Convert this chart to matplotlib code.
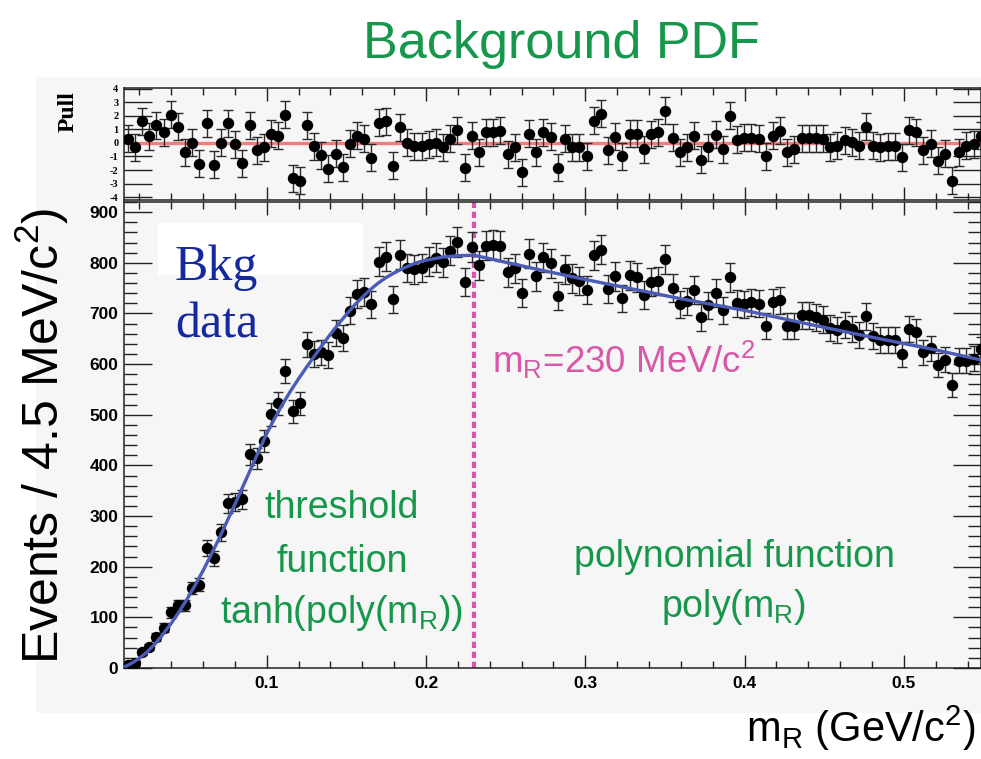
"""Background PDF fit: m_R distribution with threshold + polynomial fit and pull panel."""

import matplotlib

matplotlib.use("Agg")
import matplotlib.pyplot as plt
import numpy as np
from matplotlib.patches import Rectangle
from matplotlib.ticker import FuncFormatter, MultipleLocator

plt.rcParams["font.family"] = ["Liberation Sans", "DejaVu Sans"]
plt.rcParams["mathtext.default"] = "regular"
plt.rcParams["axes.unicode_minus"] = False

# histogram binning (4.5 MeV/c^2 bins)
BIN_LO = 0.0105
BIN_WIDTH = 0.0045

EVENTS = [
    6, 10, 32, 41, 62, 79, 110, 124, 124, 158,
    164, 237, 217, 268, 325, 328, 333, 422, 414, 448,
    501, 523, 586, 507, 523, 639, 620, 623, 618, 662,
    652, 705, 738, 742, 718, 802, 812, 728, 816, 790,
    787, 790, 802, 810, 801, 824, 841, 762, 831, 795,
    834, 836, 833, 781, 789, 740, 818, 773, 811, 799,
    734, 787, 769, 765, 746, 815, 826, 748, 773, 730,
    775, 771, 736, 763, 765, 807, 750, 718, 724, 746,
    692, 716, 740, 706, 771, 720, 718, 722, 719, 675,
    722, 726, 675, 675, 696, 696, 692, 688, 671, 667,
    677, 669, 657, 694, 655, 647, 647, 647, 619, 669,
    663, 623, 631, 598, 609, 558, 607, 607, 611, 629,
]

PULLS = [
    0.3, -0.3, 1.6, 0.5, 1.3, 0.8, 2.1, 1.2, -0.7, 0.0,
    -1.55, 1.45, -1.6, 0.0, 1.45, -0.1, -1.5, 1.3, -0.55, -0.3,
    0.7, 0.55, 2.1, -2.6, -2.8, 1.3, -0.25, -0.9, -1.9, -0.8,
    -1.8, -0.05, 0.55, 0.3, -1.1, 1.5, 1.6, -1.7, 1.15, 0.0,
    -0.25, -0.25, -0.1, 0.0, -0.3, 0.3, 0.95, -1.85, 0.55, -0.7,
    0.8, 0.8, 0.9, -0.85, -0.3, -2.15, 0.7, -0.7, 0.8, 0.45,
    -1.85, 0.3, -0.3, -0.3, -1.0, 1.65, 2.15, -0.55, 0.45, -1.0,
    0.7, 0.7, -0.45, 0.65, 0.8, 2.4, 0.4, -0.7, -0.3, 0.55,
    -1.25, -0.3, 0.6, -0.45, 2.0, 0.25, 0.4, 0.4, 0.3, -1.0,
    0.55, 0.9, -0.7, -0.45, 0.35, 0.35, 0.35, 0.3, -0.3, -0.2,
    0.2, 0.05, -0.2, 1.2, -0.2, -0.3, -0.25, -0.25, -1.05, 0.95,
    0.8, -0.55, -0.05, -1.3, -0.8, -2.8, -0.7, -0.2, -0.1, 0.55,
]

# fitted PDF
FIT_X = [
    0.0105, 0.015, 0.02, 0.025, 0.03, 0.035, 0.04, 0.045, 0.05, 0.055,
    0.06, 0.065, 0.07, 0.075, 0.08, 0.085, 0.09, 0.095, 0.10, 0.105,
    0.11, 0.115, 0.12, 0.125, 0.13, 0.135, 0.14, 0.145, 0.15, 0.155,
    0.16, 0.165, 0.17, 0.175, 0.18, 0.185, 0.19, 0.195, 0.20, 0.21,
    0.22, 0.23, 0.25, 0.27, 0.30, 0.33, 0.36, 0.40, 0.44, 0.48,
    0.52, 0.55,
]
FIT_Y = [
    2, 9, 19, 32, 48, 67, 88, 111, 136, 163,
    192, 223, 255, 289, 323, 358, 393, 428, 463, 493,
    521, 547, 571, 594, 616, 638, 659, 679, 698, 716,
    732, 747, 760, 771, 780, 788, 795, 801, 805, 811,
    814, 815, 801, 787, 767, 748, 729, 706, 679, 653,
    628, 607,
]

M_SPLIT = 0.23
X_RANGE = (0.0104, 0.5484)

GREEN = "#17974c"
PINK = "#d957a8"
BLUE = "#4c5bb5"
BG = "#f6f6f6"

W, H = 981, 759
fig = plt.figure(figsize=(W / 100, H / 100), dpi=100)


def fx(px):
    return px / W


def fy(py):
    return 1 - py / H


# grey canvas of the ROOT pad
fig.add_artist(Rectangle((fx(36), fy(713)), fx(981 - 36), (713 - 77) / H,
                         transform=fig.transFigure, facecolor=BG, edgecolor="none", zorder=-1))

ax_pull = fig.add_axes([fx(124), fy(200), fx(857), 112 / H])
ax = fig.add_axes([fx(124), fy(668), fx(857), 466 / H])

centers = BIN_LO + BIN_WIDTH * (np.arange(len(EVENTS)) + 0.5)
events = np.array(EVENTS, dtype=float)
pulls = np.array(PULLS, dtype=float)

err_kw = dict(fmt="o", color="black", ms=7.2, ecolor="#2a2a2a", elinewidth=1.0,
              capsize=3.5, capthick=1.0, clip_on=True, zorder=3)

# main panel
ax.errorbar(centers, events, yerr=np.sqrt(events), **err_kw)
ax.plot(FIT_X, FIT_Y, color=BLUE, lw=2.4, zorder=4)
ax.axvline(M_SPLIT, color=PINK, lw=3.0, dashes=(1.5, 0.9), zorder=2)

ax.set_xlim(*X_RANGE)
ax.set_ylim(0, 920)
ax.set_facecolor(BG)

# pull panel
ax_pull.axhline(0, color="#f47c7c", lw=2.4, zorder=2)
ax_pull.errorbar(centers, pulls, yerr=np.ones_like(pulls), **err_kw)
ax_pull.set_xlim(*X_RANGE)
ax_pull.set_ylim(-4.22, 4.07)
ax_pull.set_facecolor(BG)

for a in (ax, ax_pull):
    for s in a.spines.values():
        s.set_linewidth(1.1)
        s.set_color("#222222")
    a.xaxis.set_major_locator(MultipleLocator(0.1))
    a.xaxis.set_minor_locator(MultipleLocator(0.02))
    a.tick_params(axis="both", which="both", direction="in", top=True, right=True, color="#222222")
    a.tick_params(axis="x", which="major", length=9.5, width=1.0)
    a.tick_params(axis="x", which="minor", length=5, width=1.0)
    a.tick_params(axis="y", which="major", length=20, width=1.0)
    a.tick_params(axis="y", which="minor", length=9.5, width=1.0)

ax.yaxis.set_major_locator(MultipleLocator(100))
ax.yaxis.set_minor_locator(MultipleLocator(20))
ax.xaxis.set_major_formatter(FuncFormatter(lambda v, p: f"{v:.1f}"))
ax.tick_params(axis="x", which="major", labelsize=12.5, pad=6)
ax.tick_params(axis="y", which="major", labelsize=12.5, pad=4)
for lab in ax.get_xticklabels() + ax.get_yticklabels():
    lab.set_fontweight("bold")

ax_pull.yaxis.set_major_locator(MultipleLocator(1))
ax_pull.tick_params(axis="x", labelbottom=False)
ax_pull.tick_params(axis="y", which="major", labelsize=7.5, pad=4)
for lab in ax_pull.get_yticklabels():
    lab.set_fontweight("bold")
    lab.set_family(["Liberation Serif"])

# white box behind the "Bkg" label
ax.add_patch(Rectangle(((158 - 124) / 857, (668 - 275) / 466), 205 / 857, 52 / 466,
                       transform=ax.transAxes, facecolor="white", edgecolor="none", zorder=1))
ax.text((175 - 124) / 857, (668 - 280) / 466, "Bkg", transform=ax.transAxes,
        family=["Liberation Serif"], fontsize=36, color="#1428a0", va="baseline", zorder=5)
ax.text((175 - 124) / 857, (668 - 338) / 466, "data", transform=ax.transAxes,
        family=["Liberation Serif"], fontsize=36, color="#1428a0", va="baseline", zorder=5)

ax.text((492 - 124) / 857, (668 - 373) / 466, "m$_R$=230 MeV/c$^2$", transform=ax.transAxes,
        fontsize=26.5, color=PINK, va="baseline", ha="left", zorder=5)

for txt, yb in (("threshold", 518), ("function", 572), ("tanh(poly(m$_R$))", 623)):
    ax.text((342 - 124) / 857, (668 - yb) / 466, txt, transform=ax.transAxes,
            fontsize=27, color=GREEN, ha="center", va="baseline", zorder=5)
for txt, yb in (("polynomial function", 567), ("poly(m$_R$)", 617)):
    ax.text((734 - 124) / 857, (668 - yb) / 466, txt, transform=ax.transAxes,
            fontsize=27, color=GREEN, ha="center", va="baseline", zorder=5)

fig.text(fx(561), fy(58), "Background PDF", fontsize=37.5, color=GREEN, ha="center", va="baseline")
fig.text(fx(42), fy(436), "Events / 4.5 MeV/c$^2$)", fontsize=36, rotation=90,
         ha="center", va="center")
fig.text(fx(975), fy(742), "m$_R$ (GeV/c$^2$)", fontsize=30, ha="right", va="baseline")
fig.text(fx(68), fy(112), "Pull", family=["Liberation Serif"], fontweight="bold",
         fontsize=17, rotation=90, ha="center", va="center")

fig.savefig("out.png", dpi=100)
